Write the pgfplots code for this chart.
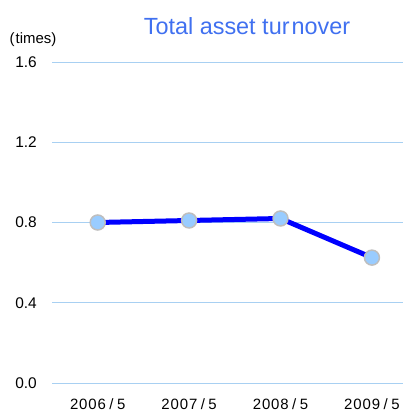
\documentclass[border=0pt]{standalone}
\usepackage{fontspec}
\setmainfont{Liberation Sans}
\usepackage{pgfplots}
\pgfplotsset{compat=1.18}
\definecolor{gridblue}{RGB}{168,208,242}
\definecolor{titleblue}{RGB}{64,112,240}
\definecolor{markfill}{RGB}{153,204,255}
\definecolor{markedge}{RGB}{190,190,190}
\newcommand{\yl}[1]{#1\hspace{3.5bp}\smash{/}\hspace{3.5bp}5}
\begin{document}
\begin{tikzpicture}[x=1bp,y=1bp]
\useasboundingbox (-52bp,-28bp) rectangle (351bp,383bp);
\begin{axis}[
  at={(0,0)}, anchor=south west,
  scale only axis, width=351bp, height=321bp,
  xmin=-0.5, xmax=3.34, ymin=0, ymax=1.6,
  axis line style={draw=none},
  ytick={0,0.4,0.8,1.2,1.6},
  ymajorgrids, grid style={gridblue, line width=0.9bp},
  xtick={0,1,2,3},
  xticklabels={\yl{2006},\yl{2007},\yl{2008},\yl{2009}},
  /pgf/number format/assume math mode=true,
  /pgf/number format/fixed, /pgf/number format/fixed zerofill, /pgf/number format/precision=1,
  yticklabel style={anchor=east, inner sep=0pt, xshift=-15bp, font=\fontsize{15.5}{18}\selectfont},
  xticklabel style={anchor=base, inner sep=0pt, yshift=-26bp, font=\fontsize{15}{17}\selectfont\addfontfeatures{LetterSpace=6}},
  major tick length=0pt,
  clip=false,
]
\addplot[color={rgb,255:red,0;green,0;blue,255}, line width=5bp, mark=*,
  mark options={fill=markfill, draw=markedge, line width=1.5bp}, mark size=7.5bp]
  coordinates {(0,0.80) (1,0.81) (2,0.82) (3,0.625)};
\end{axis}
\node[font=\fontsize{23.5}{28}\selectfont, text=titleblue] at (195bp,357bp) {Total asset tur\hspace{2bp}nover};
\node[font=\fontsize{15}{18}\selectfont] at (-19bp,343bp) {(\hspace{1bp}times)};
\end{tikzpicture}
\end{document}
